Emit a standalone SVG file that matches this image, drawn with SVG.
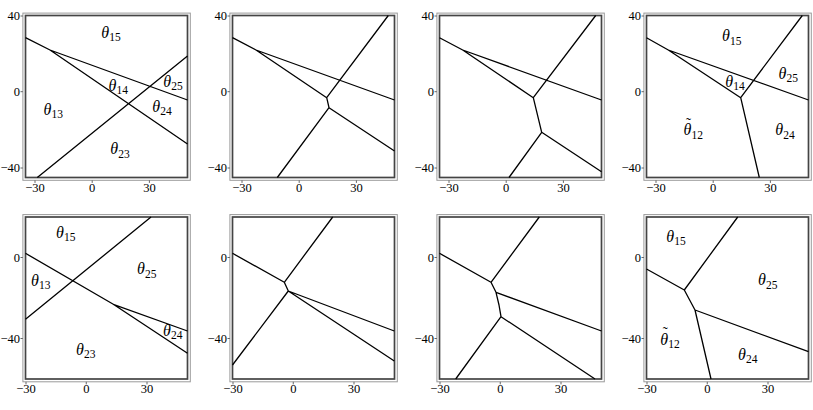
<svg xmlns="http://www.w3.org/2000/svg" width="813" height="410" viewBox="0 0 813 410">
<defs>
<style>
.outer{fill:none;stroke:#9a9a9a;stroke-width:1}
.inner{fill:#fff;stroke:#444;stroke-width:1.7}
.tick{stroke:#666;stroke-width:1}
.ln{fill:none;stroke:#000;stroke-width:1.3;stroke-linejoin:round}
.tl{font-family:"Liberation Serif","DejaVu Serif",serif;font-size:12.5px;fill:#000}
.lab{font-family:"Liberation Serif","DejaVu Serif",serif;font-size:16px;font-style:italic;fill:#000;text-anchor:middle}
.sub{font-size:11.5px;font-style:normal}
.tld{font-family:"Liberation Serif","DejaVu Serif",serif;font-size:15px;fill:#000;text-anchor:middle}
</style>
<g id="frameTop">
<rect class="outer" x="-2.6" y="-2.4" width="167.4" height="167.2"/>
<rect class="inner" x="0" y="0" width="162" height="162"/>
<path class="tick" d="M-5,0.5H-2.6M-5,76.2H-2.6M-5,152.5H-2.6M9.5,164.8V167.4M66.7,164.8V167.4M123.9,164.8V167.4"/>
<text class="tl" x="-5.5" y="4.5" text-anchor="end">40</text>
<text class="tl" x="-5.5" y="80.2" text-anchor="end">0</text>
<text class="tl" x="-5.5" y="156.5" text-anchor="end">−40</text>
<text class="tl" x="9.5" y="176" text-anchor="middle">−30</text>
<text class="tl" x="66.7" y="176" text-anchor="middle">0</text>
<text class="tl" x="123.9" y="176" text-anchor="middle">30</text>
</g>
<g id="frameBot">
<rect class="outer" x="-2.6" y="-2.4" width="167.4" height="167.2"/>
<rect class="inner" x="0" y="0" width="162" height="162"/>
<path class="tick" d="M-5,40.5H-2.6M-5,121.5H-2.6M0.5,164.8V167.4M60.75,164.8V167.4M121.5,164.8V167.4"/>
<text class="tl" x="-5.5" y="44.5" text-anchor="end">0</text>
<text class="tl" x="-5.5" y="125.5" text-anchor="end">−40</text>
<text class="tl" x="0.5" y="176" text-anchor="middle">−30</text>
<text class="tl" x="60.75" y="176" text-anchor="middle">0</text>
<text class="tl" x="121.5" y="176" text-anchor="middle">30</text>
</g>
</defs>
<rect width="813" height="410" fill="#fff"/>

<g id="panel1" transform="translate(25.5,15.5)">
<use href="#frameTop"/>
<g id="lines1">
<path class="ln" d="M0,22.2L24.5,34.5L162,84.5M24.5,34.5L162,128.5M11.8,162L162,40.5"/>
</g>
<text class="lab" x="85.5" y="22.4">θ<tspan class="sub" dy="3.5">15</tspan></text>
<text class="lab" x="92.8" y="75.4">θ<tspan class="sub" dy="3.5">14</tspan></text>
<text class="lab" x="147.5" y="71.1">θ<tspan class="sub" dy="3.5">25</tspan></text>
<text class="lab" x="136.5" y="96.1">θ<tspan class="sub" dy="3.5">24</tspan></text>
<text class="lab" x="27.8" y="99.1">θ<tspan class="sub" dy="3.5">13</tspan></text>
<text class="lab" x="94.5" y="138.8">θ<tspan class="sub" dy="3.5">23</tspan></text>
</g>

<g id="panel2" transform="translate(232.5,15.5)">
<use href="#frameTop"/>
<g id="lines2">
<path class="ln" d="M0,22.2L23.5,34.5L162,84.5M23.5,34.5L94.2,82.2L96.5,92.2L162,135.5M96.5,92.2L44.8,162M94.2,82.2L155.8,0"/>
</g>
</g>

<g id="panel3" transform="translate(439.5,15.5)">
<use href="#frameTop"/>
<g id="lines3">
<path class="ln" d="M0,22.2L23.2,34.5L162,84.5M23.2,34.5L93.8,82.2L102.2,116.8L162,156.2M102.2,116.8L69.5,162M93.8,82.2L156.2,0"/>
</g>
</g>

<g id="panel4" transform="translate(646.5,15.5)">
<use href="#frameTop"/>
<g id="lines4">
<path class="ln" d="M0,22.2L21.8,34.5L162,84.5M21.8,34.5L94.2,82.2L155.8,0M94.2,82.2L112.8,162"/>
</g>
<text class="lab" x="85.2" y="25.8">θ<tspan class="sub" dy="3.5">15</tspan></text>
<text class="lab" x="141.8" y="63.1">θ<tspan class="sub" dy="3.5">25</tspan></text>
<text class="lab" x="88.5" y="71.4">θ<tspan class="sub" dy="3.5">14</tspan></text>
<text class="lab" x="46.8" y="119.8">θ<tspan class="sub" dy="3.5">12</tspan></text>
<text class="tld" x="42" y="112.5">˜</text>
<text class="lab" x="138.5" y="119.8">θ<tspan class="sub" dy="3.5">24</tspan></text>
</g>

<g id="panel5" transform="translate(25.5,217)">
<use href="#frameBot"/>
<g id="lines5">
<path class="ln" d="M0,36.3L87.8,87.3L162,114M87.8,87.3L162,136.3M0,102.3L125.5,0"/>
</g>
<text class="lab" x="40.2" y="20.6">θ<tspan class="sub" dy="3.5">15</tspan></text>
<text class="lab" x="15.2" y="68.6">θ<tspan class="sub" dy="3.5">13</tspan></text>
<text class="lab" x="121.2" y="57.1">θ<tspan class="sub" dy="3.5">25</tspan></text>
<text class="lab" x="147.2" y="118.6">θ<tspan class="sub" dy="3.5">24</tspan></text>
<text class="lab" x="60.2" y="137.6">θ<tspan class="sub" dy="3.5">23</tspan></text>
</g>

<g id="panel6" transform="translate(232.5,217)">
<use href="#frameBot"/>
<g id="lines6">
<path class="ln" d="M0,36.3L51.8,65.3L100.2,0M51.8,65.3L55.8,74L161.8,114M55.8,74L161.8,144M55.8,74L0,148"/>
</g>
</g>

<g id="panel7" transform="translate(439.5,217)">
<use href="#frameBot"/>
<g id="lines7">
<path class="ln" d="M0,36.3L51.5,65.3L99.8,0M51.5,65.3L56.5,75.3L59.5,88L61.5,99.7M56.5,75.3L162,114M61.5,99.7L155.5,162M61.5,99.7L16.2,162"/>
</g>
</g>

<g id="panel8" transform="translate(646.5,217)">
<use href="#frameBot"/>
<g id="lines8">
<path class="ln" d="M0,52L37.8,73L91.2,0M37.8,73L48.5,93L162,134.7M48.5,93L64.5,162"/>
</g>
<text class="lab" x="29.5" y="24.9">θ<tspan class="sub" dy="3.5">15</tspan></text>
<text class="lab" x="121.2" y="68.3">θ<tspan class="sub" dy="3.5">25</tspan></text>
<text class="lab" x="23.5" y="127.6">θ<tspan class="sub" dy="3.5">12</tspan></text>
<text class="tld" x="18.7" y="120.3">˜</text>
<text class="lab" x="101.2" y="142.6">θ<tspan class="sub" dy="3.5">24</tspan></text>
</g>
</svg>
